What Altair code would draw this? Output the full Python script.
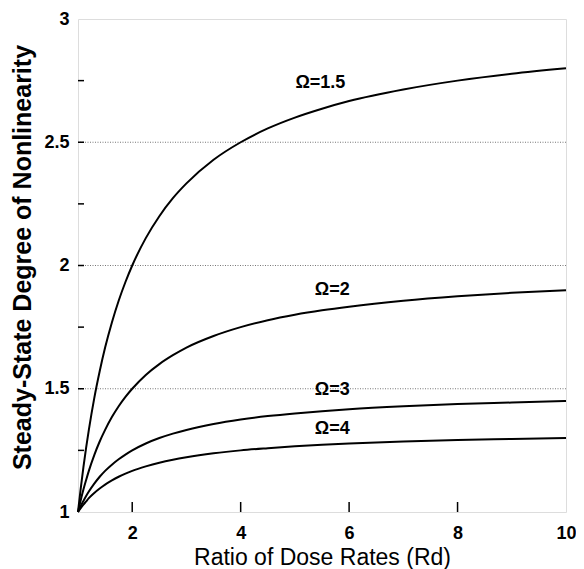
import altair as alt
import pandas as pd

# Ratio of dose rates (x) sampled along the curves
rd = [1, 1.05, 1.1, 1.15, 1.2, 1.3, 1.4, 1.5, 1.625, 1.75, 1.875, 2, 2.25, 2.5, 2.75,
      3, 3.5, 4, 4.5, 5, 5.5, 6, 7, 8, 9, 10]

# Steady-state degree of nonlinearity
omega_15 = [1.000, 1.095, 1.182, 1.261, 1.333, 1.462, 1.571, 1.667, 1.769, 1.857, 1.933, 2.000,
            2.111, 2.200, 2.273, 2.333, 2.429, 2.500, 2.556, 2.600, 2.636, 2.667, 2.714, 2.750,
            2.778, 2.800]
omega_2 = [1.000, 1.048, 1.091, 1.130, 1.167, 1.231, 1.286, 1.333, 1.385, 1.429, 1.467, 1.500,
           1.556, 1.600, 1.636, 1.667, 1.714, 1.750, 1.778, 1.800, 1.818, 1.833, 1.857, 1.875,
           1.889, 1.900]
omega_3 = [1.000, 1.024, 1.045, 1.065, 1.083, 1.115, 1.143, 1.167, 1.192, 1.214, 1.233, 1.250,
           1.278, 1.300, 1.318, 1.333, 1.357, 1.375, 1.389, 1.400, 1.409, 1.417, 1.429, 1.438,
           1.444, 1.450]
omega_4 = [1.000, 1.016, 1.030, 1.043, 1.056, 1.077, 1.095, 1.111, 1.128, 1.143, 1.156, 1.167,
           1.185, 1.200, 1.212, 1.222, 1.238, 1.250, 1.259, 1.267, 1.273, 1.278, 1.286, 1.292,
           1.296, 1.300]

series = {"Ω=1.5": omega_15, "Ω=2": omega_2, "Ω=3": omega_3, "Ω=4": omega_4}

label_text = ["Ω=1.5", "Ω=2", "Ω=3", "Ω=4"]
label_x = [5.47, 5.69, 5.69, 5.69]
label_y = [2.74, 1.90, 1.495, 1.337]

grid_y = [1.5, 2, 2.5]
x_ticks = [2, 4, 6, 8]
y_ticks = [1.25, 1.5, 1.75, 2, 2.25, 2.5, 2.75]

rows = []
for name, vals in series.items():
    for xv, yv in zip(rd, vals):
        rows.append({"omega": name, "rd": xv, "dn": yv})
df = pd.DataFrame(rows)

FONT = "Liberation Sans"

xscale = alt.Scale(domain=[1, 10], nice=False, zero=False)
yscale = alt.Scale(domain=[1, 3], nice=False, zero=False)

xaxis = alt.Axis(values=[2, 4, 6, 8, 10], format="~g", ticks=False, domain=False, grid=False,
                 labelFlush=False,
                 labelFont=FONT, labelFontSize=18, labelFontWeight="bold", labelColor="black",
                 labelPadding=12, title="Ratio of Dose Rates (Rd)", titleFont=FONT,
                 titleFontSize=23, titleFontWeight="normal", titleColor="black", titlePadding=4)
yaxis = alt.Axis(values=[1, 1.5, 2, 2.5, 3], format="~g", ticks=False, domain=False, grid=False,
                 labelFlush=False,
                 labelFont=FONT, labelFontSize=18, labelFontWeight="bold", labelColor="black",
                 labelPadding=9, title="Steady-State Degree of Nonlinearity", titleFont=FONT,
                 titleFontSize=25, titleFontWeight="bold", titleColor="black", titlePadding=8,
                 titleY=238)

grid = alt.Chart(pd.DataFrame({"y": grid_y})).mark_rule(
    color="#777", strokeWidth=1, strokeDash=[1, 1.5]
).encode(y=alt.Y("y:Q", scale=yscale, axis=yaxis))

lines = alt.Chart(df).mark_line(color="black", strokeWidth=2, interpolate="monotone").encode(
    x=alt.X("rd:Q", scale=xscale, axis=xaxis),
    y=alt.Y("dn:Q", scale=yscale, axis=yaxis),
    detail="omega:N",
)

xt = alt.Chart(pd.DataFrame({"x": x_ticks})).mark_rule(color="black", strokeWidth=1.5).encode(
    x=alt.X("x:Q", scale=xscale), y=alt.value(493), y2=alt.value(483)
)
yt = alt.Chart(pd.DataFrame({"y": y_ticks})).mark_rule(color="black", strokeWidth=1.5).encode(
    y=alt.Y("y:Q", scale=yscale), x=alt.value(0), x2=alt.value(6)
)

labels = alt.Chart(pd.DataFrame({"t": label_text, "x": label_x, "y": label_y})).mark_text(
    font=FONT, fontSize=18, fontWeight="bold", color="black", align="center", baseline="middle"
).encode(x=alt.X("x:Q", scale=xscale), y=alt.Y("y:Q", scale=yscale), text="t:N")

chart = alt.layer(grid, lines, xt, yt, labels).properties(
    width=488, height=493,
    autosize=alt.AutoSizeParams(type="none"),
    padding={"left": 70, "top": 11, "right": 10, "bottom": 57},
).configure_view(stroke="black", strokeWidth=2).configure(background="white")

chart.save("out.html", embed_options={"renderer": "svg", "actions": False})
